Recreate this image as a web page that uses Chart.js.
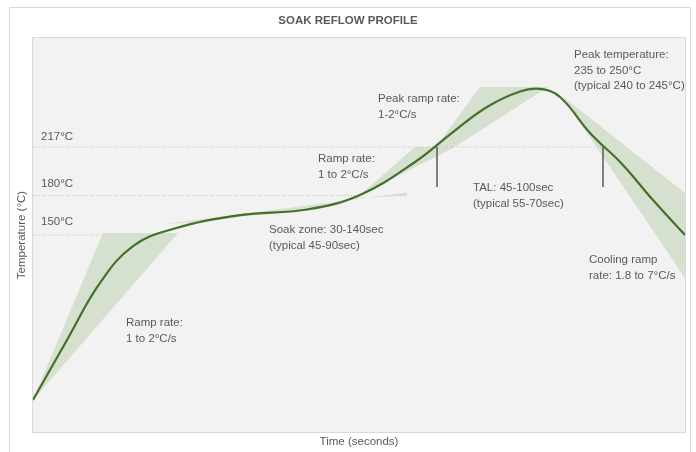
<!DOCTYPE html>
<html>
<head>
<meta charset="utf-8">
<script src="https://cdn.jsdelivr.net/npm/chart.js@4.4.1/dist/chart.umd.min.js"></script>
<style>
  html, body { margin: 0; padding: 0; background: #fff; }
  #wrap { width: 696px; height: 452px; }
</style>
</head>
<body>
<div id="wrap"><canvas id="reflow" width="696" height="452"></canvas></div>
<script>
// profile curve: time (s) / temperature (°C)
const profileTime = [0, 17, 33.5, 50, 70, 103.5, 137, 163.5, 191, 210, 227, 243.5, 253.5, 263.5, 278.5, 294.5, 310, 326];
const profileTemp = [24.4, 70.1, 113.5, 141.6, 154.6, 165.2, 169.4, 180.5, 205.6, 228.4, 247.5, 259.3, 261.2, 255.1, 227.7, 204.1, 176.6, 150];

// shaded tolerance zones (polygons)
const preheatTime = [0, 35, 72.5];
const preheatTemp = [24.4, 151.5, 151.5];
const soakTime = [66, 187, 187, 160, 150, 133.5, 108.5, 87];
const soakTemp = [158.4, 182.4, 179.7, 178.2, 172.5, 168.3, 164.8, 160.3];
const rampTime = [163.5, 191, 211];
const rampTemp = [180.5, 217, 217];
const peakRampTime = [201, 223.5, 257.5, 210];
const peakRampTemp = [216.2, 262.7, 262.7, 216.2];
const coolTime = [264.5, 326, 326];
const coolTemp = [255.8, 182, 117.3];

// reference levels
const levelTemp = [217, 180, 150];
const levelEnd = [285, 163.5, 35];
const levelText = ['217°C', '180°C', '150°C'];
const levelTextTemp = [224.6, 188.8, 160];

// TAL markers
const markerTime = [202, 285];
const markerTop = 217;
const markerBottom = 186.6;

// notes
const noteText = [
  ['Ramp rate:', '1 to 2°C/s'],
  ['Soak zone: 30-140sec', '(typical 45-90sec)'],
  ['Ramp rate:', '1 to 2°C/s'],
  ['Peak ramp rate:', '1-2°C/s'],
  ['TAL: 45-100sec', '(typical 55-70sec)'],
  ['Peak temperature:', '235 to 250°C', '(typical 240 to 245°C)'],
  ['Cooling ramp', 'rate: 1.8 to 7°C/s']
];
const noteTime = [46.5, 118, 142.5, 172.5, 220, 270.5, 278];
const noteTemp = [83, 153.8, 207.9, 253.6, 185.8, 287.1, 131];

const FONT = '"Liberation Sans", Arial, sans-serif';
const TEXT = '#595959';
const SHADE = '#d6e0cf';

const pts = (xs, ys) => xs.map((x, i) => ({ x: x, y: ys[i] }));

function shade(xs, ys) {
  return {
    data: pts(xs, ys),
    fill: 'shape',
    backgroundColor: SHADE,
    borderWidth: 0,
    pointRadius: 0,
    tension: 0,
    order: 3
  };
}

const datasets = [
  {
    data: pts(profileTime, profileTemp),
    borderColor: '#43702b',
    borderWidth: 2.2,
    pointRadius: 0,
    tension: 0.4,
    fill: false,
    order: 0
  },
  shade(preheatTime, preheatTemp),
  shade(soakTime, soakTemp),
  shade(rampTime, rampTemp),
  shade(peakRampTime, peakRampTemp),
  shade(coolTime, coolTemp)
];

levelTemp.forEach((t, i) => {
  datasets.push({
    data: [{ x: 0, y: t }, { x: levelEnd[i], y: t }],
    borderColor: '#bdbdbd',
    borderWidth: 1,
    borderDash: [1, 2],
    pointRadius: 0,
    fill: false,
    order: 2
  });
});

markerTime.forEach(m => {
  datasets.push({
    data: [{ x: m, y: markerTop }, { x: m, y: markerBottom }],
    borderColor: '#595959',
    borderWidth: 1.5,
    pointRadius: 0,
    fill: false,
    order: 1
  });
});

const decor = {
  id: 'decor',
  beforeDraw(chart) {
    const { ctx, chartArea: a } = chart;
    ctx.save();
    ctx.strokeStyle = '#d9d9d9';
    ctx.lineWidth = 1;
    ctx.strokeRect(9.5, 7.5, 681, 470);
    ctx.fillStyle = '#f2f2f2';
    ctx.fillRect(a.left, a.top, a.width, a.height);
    ctx.strokeRect(a.left - 0.5, a.top - 0.5, a.width + 1, a.height + 1);
    ctx.restore();
  },
  afterDatasetsDraw(chart) {
    const { ctx, chartArea: a, scales } = chart;
    const x = scales.x, y = scales.y;
    ctx.save();
    ctx.fillStyle = TEXT;
    ctx.textBaseline = 'middle';

    ctx.font = '11.5px ' + FONT;
    ctx.textAlign = 'left';
    levelText.forEach((s, i) => {
      ctx.fillText(s, x.getPixelForValue(4), y.getPixelForValue(levelTextTemp[i]));
    });
    noteText.forEach((lines, i) => {
      const px = x.getPixelForValue(noteTime[i]);
      const py = y.getPixelForValue(noteTemp[i]);
      lines.forEach((s, j) => ctx.fillText(s, px, py + j * 15.5));
    });

    ctx.textAlign = 'center';
    ctx.fillText('Time (seconds)', (a.left + a.right) / 2, 442);
    ctx.save();
    ctx.translate(22, (a.top + a.bottom) / 2);
    ctx.rotate(-Math.PI / 2);
    ctx.fillText('Temperature (°C)', 0, 0);
    ctx.restore();

    ctx.font = 'bold 11.5px ' + FONT;
    ctx.fillText('SOAK REFLOW PROFILE', 348, 21);
    ctx.restore();
  }
};

new Chart(document.getElementById('reflow'), {
  type: 'line',
  data: { datasets: datasets },
  options: {
    responsive: false,
    animation: false,
    layout: { autoPadding: false, padding: { left: 33, right: 11, top: 38, bottom: 20 } },
    scales: {
      x: { type: 'linear', min: 0, max: 326, display: false },
      y: { type: 'linear', min: 0, max: 300, display: false }
    },
    plugins: {
      legend: { display: false },
      tooltip: { enabled: false }
    }
  },
  plugins: [decor]
});
</script>
</body>
</html>
